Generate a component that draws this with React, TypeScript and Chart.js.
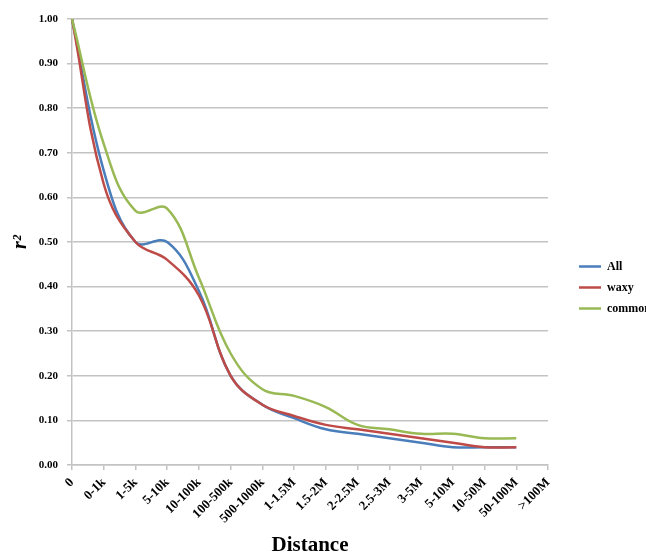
import React, { useEffect, useRef } from "react";
import { Chart, registerables } from "chart.js";

Chart.register(...registerables);

const categories = [
  "0", "0-1k", "1-5k", "5-10k", "10-100k", "100-500k", "500-1000k",
  "1-1.5M", "1.5-2M", "2-2.5M", "2.5-3M", "3-5M", "5-10M", "10-50M",
  "50-100M", ">100M",
];

const allValues = [1.0, 0.66, 0.5, 0.5, 0.39, 0.2, 0.135, 0.105, 0.08, 0.07, 0.06, 0.05, 0.04, 0.04, 0.04];
const waxyValues = [1.0, 0.63, 0.5, 0.46, 0.38, 0.2, 0.135, 0.11, 0.09, 0.08, 0.07, 0.06, 0.05, 0.04, 0.04];
const commonValues = [1.0, 0.72, 0.57, 0.575, 0.42, 0.25, 0.17, 0.155, 0.13, 0.09, 0.08, 0.07, 0.07, 0.06, 0.06];

const yTicks = [0, 0.1, 0.2, 0.3, 0.4, 0.5, 0.6, 0.7, 0.8, 0.9, 1.0];

const SERIF = "'Liberation Serif', 'Times New Roman', serif";
const GRID = "#c3c3c3";

export default function App() {
  const ref = useRef<HTMLCanvasElement | null>(null);

  useEffect(() => {
    document.body.style.margin = "0";
    const canvas = ref.current;
    if (!canvas) return;
    const chart = new Chart(canvas, {
      type: "line",
      data: {
        labels: categories,
        datasets: [
          { label: "All", data: allValues, borderColor: "#4a7ebb", backgroundColor: "#4a7ebb", order: 3 },
          { label: "waxy", data: waxyValues, borderColor: "#be4b48", backgroundColor: "#be4b48", order: 2 },
          { label: "common", data: commonValues, borderColor: "#98b954", backgroundColor: "#98b954", order: 1 },
        ].map((d) => ({ ...d, borderWidth: 2.5, pointRadius: 0, pointHoverRadius: 0, tension: 0.4, fill: false })),
      },
      options: {
        animation: false,
        responsive: true,
        maintainAspectRatio: false,
        layout: { padding: { top: 19, left: 0, right: 0, bottom: 0 } },
        plugins: {
          tooltip: { enabled: false },
          legend: {
            position: "right",
            align: "center",
            maxWidth: 76,
            labels: {
              usePointStyle: true,
              pointStyle: "line",
              pointStyleWidth: 22,
              padding: 9,
              color: "#000",
              font: { family: SERIF, size: 12, weight: "bold" },
              sort: (a: any, b: any) => a.datasetIndex - b.datasetIndex,
            },
          },
        },
        scales: {
          x: {
            type: "category",
            offset: false,
            grid: { display: true, drawOnChartArea: false, drawTicks: true, tickLength: 5, color: GRID, lineWidth: 1.5 },
            border: { display: true, color: GRID, width: 1.5 },
            ticks: {
              autoSkip: false,
              minRotation: 45,
              maxRotation: 45,
              padding: 5,
              color: "#000",
              font: { family: SERIF, size: 13, weight: "bold" },
            },
            title: {
              display: true,
              text: "Distance",
              color: "#000",
              font: { family: SERIF, size: 21, weight: "bold", lineHeight: 1 },
              padding: { top: 0, bottom: 0 },
            },
            afterFit: (s: any) => { s.height = 91; },
          },
          y: {
            min: 0,
            max: 1,
            afterBuildTicks: (s: any) => { s.ticks = yTicks.map((v) => ({ value: v })); },
            grid: { color: GRID, lineWidth: 1.5, tickLength: 5, drawTicks: true },
            border: { display: true, color: GRID, width: 1.5 },
            ticks: {
              padding: 9,
              color: "#000",
              font: { family: SERIF, size: 11, weight: "bold" },
              callback: (v: any) => Number(v).toFixed(2),
            },
            title: {
              display: true,
              text: "r²",
              color: "#000",
              font: { family: SERIF, size: 20, weight: "bold", style: "italic", lineHeight: 1.2 },
              padding: { top: 9, bottom: 0 },
            },
            afterFit: (s: any) => { s.width = 72; },
          },
          gap: {
            type: "linear",
            position: "right",
            display: true,
            grid: { display: false, drawOnChartArea: false },
            border: { display: false },
            ticks: { display: false },
            afterFit: (s: any) => { s.width = 22; },
          },
        },
      },
    });
    return () => chart.destroy();
  }, []);

  return (
    <div style={{ width: 646, height: 556, position: "relative" }}>
      <canvas ref={ref} />
    </div>
  );
}
